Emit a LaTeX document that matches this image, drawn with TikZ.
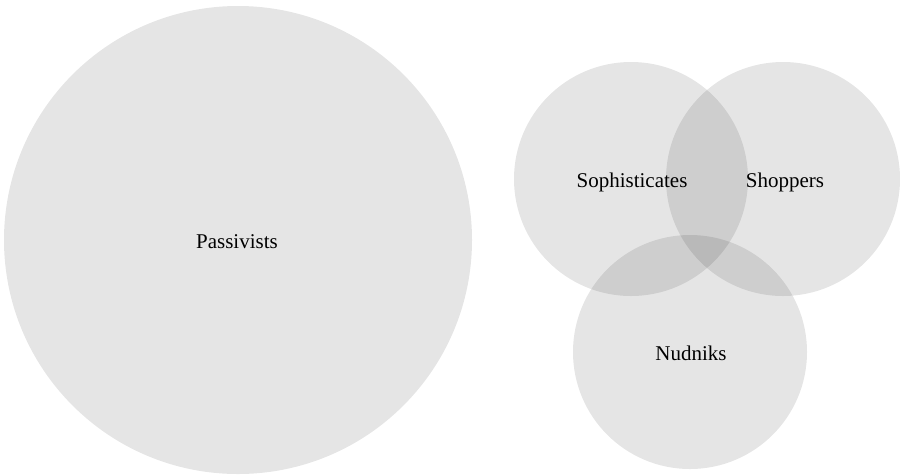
\documentclass[tikz,border=0pt]{standalone}
\usepackage{fontspec}
\setmainfont{Liberation Serif}
\begin{document}
\begin{tikzpicture}[x=1pt,y=-1pt,
  setcircle/.style={circle,fill=black,fill opacity=0.1,draw=none,inner sep=0pt},
  setlabel/.style={font=\fontsize{21}{25}\selectfont,text=black,inner sep=0pt}]
\useasboundingbox (0,0) rectangle (900,475);
\node[setcircle,minimum size=468pt] (pas) at (238,240) {};
\node[setcircle,minimum size=234pt] (sop) at (631,179) {};
\node[setcircle,minimum size=234pt] (sho) at (783,179) {};
\node[setcircle,minimum size=234pt] (nud) at (690,352) {};
\node[setlabel] (lpas) at (237,242) {Passivists};
\node[setlabel] (lsop) at (632,182) {Sophisticates};
\node[setlabel] (lsho) at (785,182) {Shoppers};
\node[setlabel] (lnud) at (691,353) {Nudniks};
\end{tikzpicture}
\end{document}
